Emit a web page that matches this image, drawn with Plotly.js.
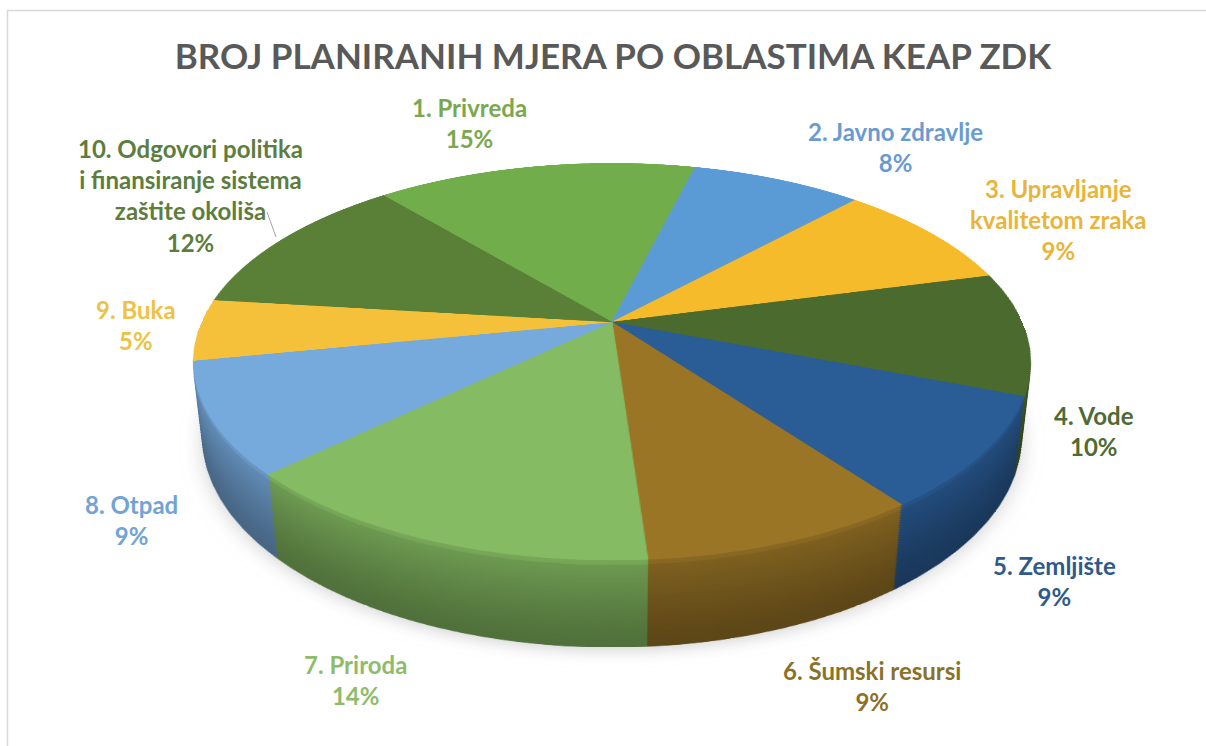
<!DOCTYPE html>
<html>
<head>
<meta charset="utf-8">
<script src="https://cdn.plot.ly/plotly-3.0.1.min.js"></script>
<style>
html,body{margin:0;padding:0;background:#ffffff;overflow:hidden;}
#wrap{position:relative;width:1206px;height:746px;overflow:hidden;background:#ffffff;}
#main{position:absolute;left:0;top:0;width:1206px;height:746px;}
.disk{position:absolute;width:820px;height:820px;transform-origin:50% 50%;pointer-events:none;}
</style>
</head>
<body>
<div id="wrap"><div id="main"></div></div>
<script>
// ---------------- data ----------------
const chartTitle = "BROJ PLANIRANIH MJERA PO OBLASTIMA KEAP ZDK";
const categories = [
  "1. Privreda",
  "2. Javno zdravlje",
  "3. Upravljanje kvalitetom zraka",
  "4. Vode",
  "5. Zemljište",
  "6. Šumski resursi",
  "7. Priroda",
  "8. Otpad",
  "9. Buka",
  "10. Odgovori politika i finansiranje sistema zaštite okoliša"
];
const values = [15, 8, 9, 10, 9, 9, 14, 9, 5, 12];

// ---------------- style ----------------
const sliceColors = ["#72ad4c","#5b9bd5","#f6bb2a","#4b6a2d","#2a5c96","#9a7526","#85bb62","#76a9dc","#f5c13a","#5a7f37"];
const labelColors = ["#7aa84e","#6a9bd0","#e8b53a","#4f6b34","#2f5a8c","#8b7127","#8fbc6b","#71a3d6","#efc144","#5c7d3d"];
// label block centres in pixels (layout only)
const labelCenters = [[469,123],[896,147],[1058,220],[1094,431],[1054,581],[872,686],[355,680],[131,520],[136,325],[190,195]];

const W = 1206, H = 746;
const CX = 612, CY = 322, R = 410;      // pie centre and radius (px)
const TILT = 62.3, PERSP = 1822, DEPTH = 87, ROT = -40;
const FONT = "Lato, 'Open Sans', sans-serif";

function wrapLabel(s, maxChars) {
  const words = s.split(" "); const lines = []; let cur = "";
  words.forEach(w => {
    if (cur && (cur + " " + w).length > maxChars) { lines.push(cur); cur = w; }
    else cur = cur ? cur + " " + w : w;
  });
  if (cur) lines.push(cur);
  return lines.join("<br>");
}
function shade(hex, f) {
  const n = parseInt(hex.slice(1), 16);
  const r = Math.round(((n >> 16) & 255) * f), g = Math.round(((n >> 8) & 255) * f), b = Math.round((n & 255) * f);
  return "rgb(" + r + "," + g + "," + b + ")";
}

const total = values.reduce((a, b) => a + b, 0);

// ---------------- main layer: title, labels, frame ----------------
const annotations = categories.map((c, i) => ({
  text: wrapLabel(c, 22) + "<br>" + Math.round(values[i] / total * 100) + "%",
  x: labelCenters[i][0] / W, y: 1 - labelCenters[i][1] / H,
  xref: "paper", yref: "paper", xanchor: "center", yanchor: "middle",
  showarrow: false, align: "center",
  font: { family: FONT, size: 24, color: labelColors[i], weight: 700 }
}));

const mainLayout = {
  width: W, height: H,
  margin: { l: 0, r: 0, t: 0, b: 0 },
  paper_bgcolor: "#ffffff", plot_bgcolor: "#ffffff",
  xaxis: { visible: false, range: [0, 1] },
  yaxis: { visible: false, range: [0, 1] },
  showlegend: false,
  title: {
    text: chartTitle,
    font: { family: FONT, size: 35, color: "#595959", weight: 700 },
    x: 613 / W, xanchor: "center", xref: "paper",
    y: 1 - 57 / H, yanchor: "middle", yref: "container"
  },
  annotations: annotations,
  shapes: [
    { type: "rect", xref: "paper", yref: "paper", x0: 7.5 / W, x1: 1.05, y0: -0.05, y1: 1 - 10.5 / H,
      line: { color: "#d9d9d9", width: 1.5 }, fillcolor: "rgba(0,0,0,0)" },
    { type: "line", xref: "paper", yref: "paper", x0: 267 / W, y0: 1 - 212 / H, x1: 276 / W, y1: 1 - 237 / H,
      line: { color: "#a6a6a6", width: 1 } }
  ]
};
Plotly.newPlot("main", [], mainLayout, { staticPlot: true, displayModeBar: false });

// ---------------- pie disk layers (3D look) ----------------
const wrap = document.getElementById("wrap");
function makeDisk(z) {
  const d = document.createElement("div");
  d.className = "disk";
  d.style.left = (CX - R) + "px";
  d.style.top = (CY - R) + "px";
  d.style.transform = "perspective(" + PERSP + "px) rotateX(" + TILT + "deg) translateZ(" + (-z) + "px)";
  wrap.appendChild(d);
  return d;
}
function pieTrace(colors) {
  return {
    type: "pie", values: values, labels: categories, sort: false,
    direction: "clockwise", rotation: ROT,
    marker: { colors: colors, line: { color: colors, width: 1 } },
    textinfo: "none", hoverinfo: "skip", showlegend: false,
    domain: { x: [0, 1], y: [0, 1] }
  };
}
const diskLayout = {
  width: 2 * R, height: 2 * R, margin: { l: 0, r: 0, t: 0, b: 0 },
  paper_bgcolor: "rgba(0,0,0,0)", showlegend: false
};
const cfg = { staticPlot: true, displayModeBar: false };

// soft shadow
const sh = makeDisk(DEPTH + 3);
sh.style.filter = "blur(10px)";
sh.style.opacity = "0.22";
Plotly.newPlot(sh, [pieTrace(sliceColors.map(() => "#303030"))], diskLayout, cfg);

// side wall: stacked darker disks, smooth shading from bottom to top
const STEP = 2.5;
for (let z = DEPTH; z > 0; z -= STEP) {
  const t = 1 - z / DEPTH;                 // 0 at bottom, 1 near top
  const f = 0.6 + 0.24 * Math.pow(t, 1.3) + (t > 0.93 ? 0.06 : 0);
  const d = makeDisk(z);
  Plotly.newPlot(d, [pieTrace(sliceColors.map(c => shade(c, f)))], diskLayout, cfg);
}
// top face
const topDisk = makeDisk(0);
Plotly.newPlot(topDisk, [pieTrace(sliceColors)], diskLayout, cfg);
</script>
</body>
</html>
